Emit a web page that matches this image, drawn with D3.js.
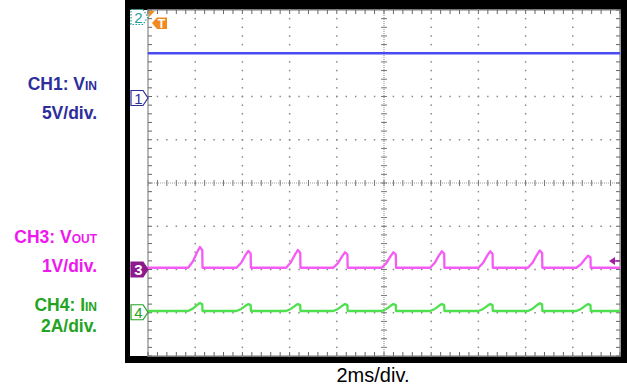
<!DOCTYPE html>
<html><head><meta charset="utf-8">
<script src="https://cdn.jsdelivr.net/npm/d3@7"></script>
<style>body{margin:0;background:#fff}svg{display:block}</style>
</head><body><svg id="c" width="627" height="390"></svg>
<script>
// ---- data ----
const timeDomain = [0, 20];          // ms (10 div x 2 ms)
const divDomain = [-4, 4];           // vertical divisions
const ch1Offset = 2, ch3Offset = -2, ch4Offset = -3;   // ground marker positions (div)
const ch1Scale = 5, ch3Scale = 1, ch4Scale = 2;        // V/div, V/div, A/div
const vinLevel = 5.0;                // V
const pulseTimes = [2.2, 4.25, 6.35, 8.35, 10.4, 12.45, 14.5, 16.6, 18.65]; // ms
const voutBase = 0.04;               // V
const voutPeaks = [0.52, 0.43, 0.45, 0.40, 0.40, 0.42, 0.42, 0.44, 0.32];   // V
const iinBase = 0.08;                // A
const iinPeaks = [0.45, 0.40, 0.40, 0.40, 0.40, 0.40, 0.40, 0.44, 0.40];    // A
const pulseShape = [[-0.5, 0], [-0.3, 0.3], [-0.12, 0.75], [0, 1], [0.1, 0.85], [0.11, 0]]; // relative (ms, fraction)
const labels = [
  {main: "CH1: V", sub: "IN", unit: "5V/div.", color: "#2d2d9c", y1: 90, y2: 119},
  {main: "CH3: V", sub: "OUT", unit: "1V/div.", color: "#ee18ee", y1: 243, y2: 272},
  {main: "CH4: I", sub: "IN", unit: "2A/div.", color: "#22a422", y1: 311, y2: 332}
];
const timeLabel = "2ms/div.";

// ---- scales ----
const x = d3.scaleLinear().domain(timeDomain).range([148, 620]);
const y = d3.scaleLinear().domain(divDomain).range([356, 10]);
const svg = d3.select("#c");

// frame
svg.append("rect").attr("x", 125).attr("y", 0).attr("width", 502).attr("height", 363).attr("fill", "#000");
svg.append("rect").attr("x", 130).attr("y", 10).attr("width", 490.5).attr("height", 346).attr("fill", "#fff");

const g = svg.append("g");
const minorX = d3.range(0, 20.001, 0.4);
const minorY = d3.range(-4, 4.001, 0.2);
const majorX = d3.range(2, 19, 2);
const majorY = d3.range(-3, 4, 1);

// dotted major grid
majorX.filter(t => t !== 10).forEach(t => {
  minorY.forEach(d => g.append("rect").attr("x", x(t) - 0.75).attr("y", y(d) - 0.75)
    .attr("width", 1.5).attr("height", 1.5).attr("fill", "#8a8a8a"));
});
majorY.filter(d => d !== 0).forEach(d => {
  minorX.forEach(t => g.append("rect").attr("x", x(t) - 0.75).attr("y", y(d) - 0.75)
    .attr("width", 1.5).attr("height", 1.5).attr("fill", "#8a8a8a"));
});
// center lines
g.append("line").attr("x1", x(0)).attr("x2", x(20)).attr("y1", y(0)).attr("y2", y(0))
  .attr("stroke", "#a0a0a0").attr("stroke-width", 1.2).attr("stroke-dasharray", "1,1");
g.append("line").attr("x1", x(10)).attr("x2", x(10)).attr("y1", y(-4)).attr("y2", y(4))
  .attr("stroke", "#a0a0a0").attr("stroke-width", 1.2).attr("stroke-dasharray", "1,1");
minorX.forEach(t => g.append("line").attr("x1", x(t)).attr("x2", x(t)).attr("y1", y(0) - 3).attr("y2", y(0) + 3)
  .attr("stroke", "#777").attr("stroke-width", 1));
minorY.forEach(d => g.append("line").attr("x1", x(10) - 3).attr("x2", x(10) + 3).attr("y1", y(d)).attr("y2", y(d))
  .attr("stroke", "#777").attr("stroke-width", 1));
// border with inward ticks
g.append("rect").attr("x", x(0)).attr("y", y(4)).attr("width", x(20) - x(0)).attr("height", y(-4) - y(4))
  .attr("fill", "none").attr("stroke", "#a0a0a0").attr("stroke-width", 1.5);
minorX.forEach(t => {
  g.append("line").attr("x1", x(t)).attr("x2", x(t)).attr("y1", y(4)).attr("y2", y(4) + 4).attr("stroke", "#666");
  g.append("line").attr("x1", x(t)).attr("x2", x(t)).attr("y1", y(-4)).attr("y2", y(-4) - 4).attr("stroke", "#666");
});
minorY.forEach(d => {
  g.append("line").attr("x1", x(0)).attr("x2", x(0) + 4).attr("y1", y(d)).attr("y2", y(d)).attr("stroke", "#666");
  g.append("line").attr("x1", x(20)).attr("x2", x(20) - 4).attr("y1", y(d)).attr("y2", y(d)).attr("stroke", "#666");
});

// ---- waveforms ----
function pulseTrain(base, peaks) {
  const pts = [[timeDomain[0], base]];
  pulseTimes.forEach((t, i) => {
    pulseShape.forEach(([dt, f]) => pts.push([t + dt, base + f * (peaks[i] - base)]));
  });
  pts.push([timeDomain[1], base]);
  return pts;
}
const line = d3.line();
const ch1 = [[0, vinLevel], [20, vinLevel]];
svg.append("path").attr("d", line(ch1.map(([t, v]) => [x(t), y(ch1Offset + v / ch1Scale)])))
  .attr("fill", "none").attr("stroke", "#4a4af2").attr("stroke-width", 2.6);
svg.append("path").attr("d", line(pulseTrain(voutBase, voutPeaks).map(([t, v]) => [x(t), y(ch3Offset + v / ch3Scale)])))
  .attr("fill", "none").attr("stroke", "#f55cf5").attr("stroke-width", 2.3).attr("stroke-linejoin", "round");
svg.append("path").attr("d", line(pulseTrain(iinBase, iinPeaks).map(([t, v]) => [x(t), y(ch4Offset + v / ch4Scale)])))
  .attr("fill", "none").attr("stroke", "#4ee04e").attr("stroke-width", 2.3).attr("stroke-linejoin", "round");

// ---- channel markers ----
function marker(yc, stroke, fill, txtColor, txt, dash) {
  const pts = [[131, yc - 7.5], [143, yc - 7.5], [148, yc], [143, yc + 7.5], [131, yc + 7.5]];
  svg.append("polygon").attr("points", pts.map(p => p.join(",")).join(" "))
    .attr("fill", fill).attr("stroke", stroke).attr("stroke-width", 1.2)
    .attr("stroke-dasharray", dash || null);
  svg.append("text").attr("x", 138.5).attr("y", yc + 5.5).attr("text-anchor", "middle")
    .attr("font-family", "Liberation Sans, Arial, sans-serif").attr("font-size", 15)
    .attr("font-weight", txtColor === "#fff" ? "bold" : "normal")
    .attr("fill", txtColor).text(txt);
}
marker(17, "#1f9e9e", "#fff", "#1f9e9e", "2", "1.5,1.5");
marker(y(ch1Offset) + 1.5, "#2d2d9c", "#fff", "#2d2d9c", "1");
marker(y(ch3Offset), "#8c1a8c", "#8c1a8c", "#fff", "3");
marker(y(ch4Offset) - 0.5, "#22a422", "#fff", "#22a422", "4");

// trigger markers
svg.append("polygon").attr("points", "149,11 155,11 149,17").attr("fill", "#f28a22");
svg.append("polygon").attr("points", "152,23 157,17.5 167,17.5 167,29 157,29").attr("fill", "#f28a22");
svg.append("text").attr("x", 161.5).attr("y", 27.5).attr("text-anchor", "middle")
  .attr("font-family", "Liberation Sans, Arial, sans-serif").attr("font-size", 12).attr("font-weight", "bold")
  .attr("fill", "#fff").text("T");
svg.append("polygon").attr("points", "609,261 615,257 615,265").attr("fill", "#a020a0");
svg.append("line").attr("x1", 614).attr("x2", 620).attr("y1", 261).attr("y2", 261).attr("stroke", "#a020a0").attr("stroke-width", 1.5);

// ---- labels ----
labels.forEach(l => {
  const t = svg.append("text").attr("x", 97).attr("y", l.y1).attr("text-anchor", "end")
    .attr("font-family", "Liberation Sans, Arial, sans-serif").attr("font-weight", "bold")
    .attr("font-size", 17.5).attr("fill", l.color);
  t.append("tspan").text(l.main);
  t.append("tspan").attr("font-size", 12).text(l.sub);
  svg.append("text").attr("x", 97).attr("y", l.y2).attr("text-anchor", "end")
    .attr("font-family", "Liberation Sans, Arial, sans-serif").attr("font-weight", "bold")
    .attr("font-size", 17.5).attr("fill", l.color).text(l.unit);
});
svg.append("text").attr("x", 373).attr("y", 382).attr("text-anchor", "middle")
  .attr("font-family", "Liberation Sans, Arial, sans-serif").attr("font-size", 20)
  .attr("fill", "#000").text(timeLabel);
</script></body></html>
